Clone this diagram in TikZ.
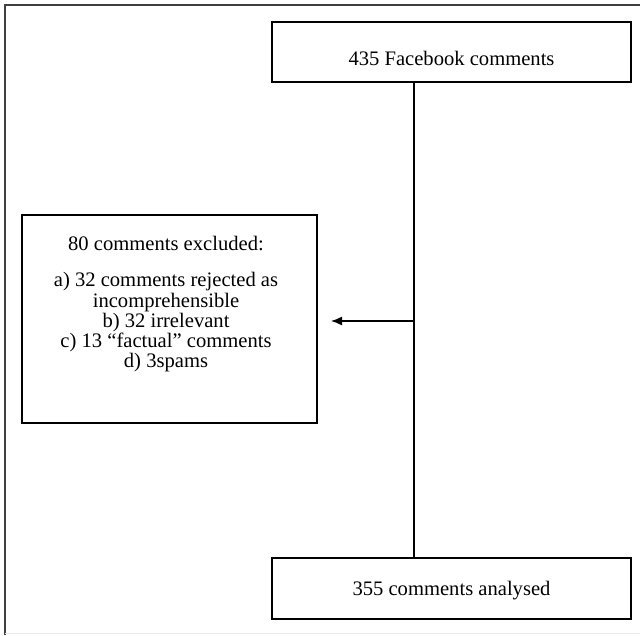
\documentclass[tikz,border=0pt]{standalone}
\usepackage{fontspec}
\setmainfont{Liberation Serif}
\usetikzlibrary{arrows.meta}
\begin{document}
\begin{tikzpicture}[x=1pt,y=-1pt,
  box/.style={draw=black, line width=1.4pt, inner sep=0pt},
  lbl/.style={font=\fontsize{20.6}{20.3}\selectfont, align=center, inner sep=0pt},
  link/.style={line width=1.9pt}]
\useasboundingbox (0,0) rectangle (640,635);
\fill[white] (0,0) rectangle (640,635);
\draw[line width=2pt, black!75] (5,635) -- (5,5) -- (640,5);
\draw[line width=0.8pt, black!8] (5,633) -- (640,633);
% boxes
\node[box, minimum width=359pt, minimum height=60pt] (top) at (451.5,52) {};
\node[box, minimum width=359pt, minimum height=61pt] (bot) at (451.5,588.5) {};
\node[box, minimum width=295pt, minimum height=208pt] (excl) at (169.5,319) {};
% texts
\node[lbl, anchor=base] (toptext) at (451.5,65) {435 Facebook comments};
\node[lbl, anchor=base] (bottext) at (451.5,595) {355 comments analysed};
\node[lbl, anchor=north] (excltext) at (166,236) {80 comments excluded:\\[16pt]
a) 32 comments rejected as\\ incomprehensible\\ b) 32 irrelevant\\ c) 13 “factual” comments\\ d) 3spams};
% connectors
\coordinate (down) at (top.south -| 414,0);
\coordinate (up) at (bot.north -| 414,0);
\draw[link] (down) -- (up);
\coordinate (branch) at (414,321);
\coordinate (tip) at (331,321);
\draw[link, line width=1.4pt, -{Latex[length=11pt, width=9pt]}] (branch) -- (tip);
\end{tikzpicture}
\end{document}
